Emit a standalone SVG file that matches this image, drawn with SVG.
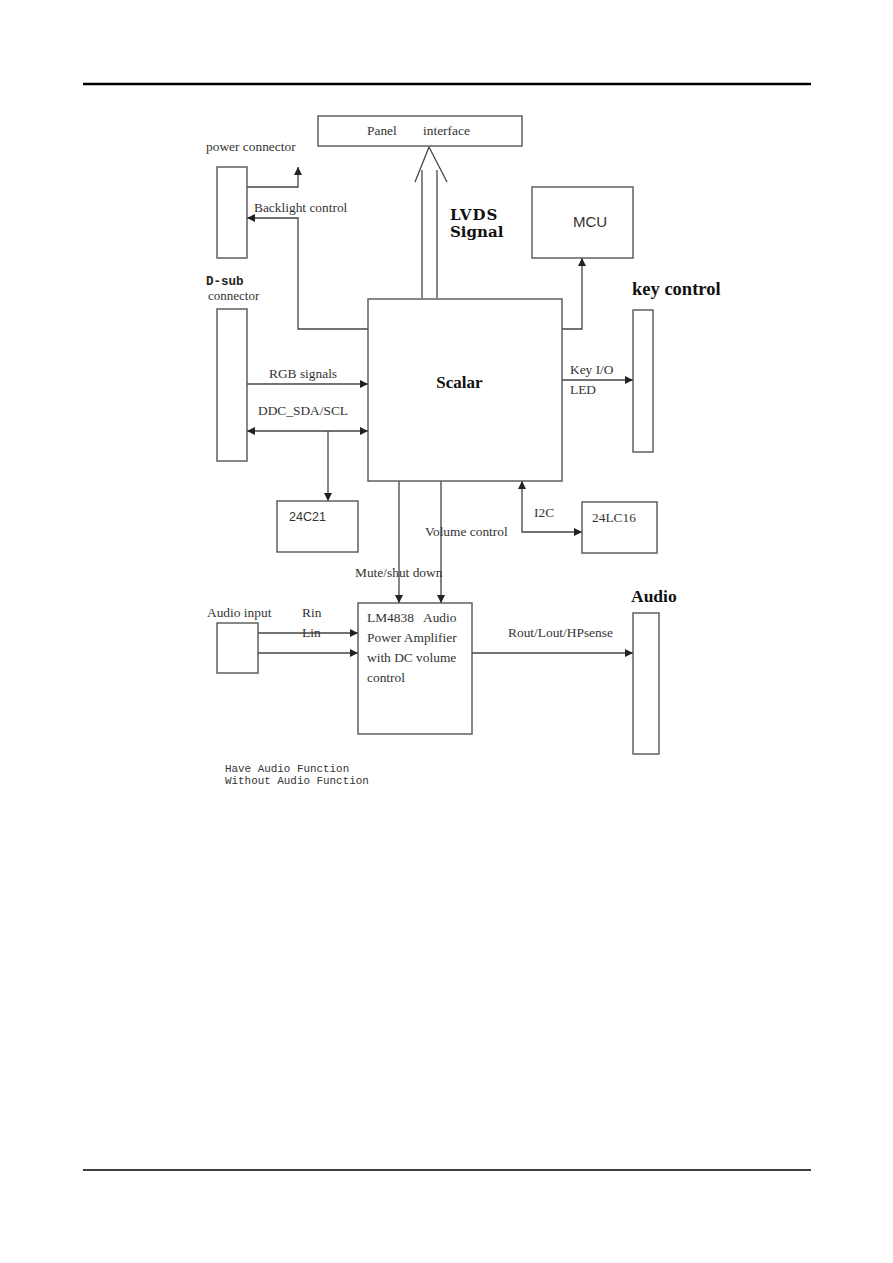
<svg xmlns="http://www.w3.org/2000/svg" width="893" height="1263" viewBox="0 0 893 1263">
<defs>
<marker id="ah" viewBox="0 0 10 10" refX="10" refY="5" markerWidth="9" markerHeight="8" markerUnits="userSpaceOnUse" orient="auto-start-reverse">
<path d="M0,0 L10,5 L0,10 z" fill="#222"/>
</marker>
<style>
.box{fill:#fff;stroke:#555;stroke-width:1.4}
.ln{fill:none;stroke:#444;stroke-width:1.3}
.arr{fill:none;stroke:#444;stroke-width:1.3;marker-end:url(#ah)}
.t{font-family:"Liberation Serif",serif;font-size:13.4px;fill:#333}
.b{font-family:"Liberation Serif",serif;font-weight:bold;font-size:17px;fill:#111}
.m{font-family:"Liberation Mono",monospace;font-size:10.9px;fill:#333}
.s{font-family:"Liberation Sans",sans-serif;font-size:13px;fill:#333}
</style>
</defs>
<rect width="893" height="1263" fill="#fff"/>
<line x1="83" y1="84" x2="811" y2="84" stroke="#000" stroke-width="2.5"/>
<line x1="83" y1="1170" x2="811" y2="1170" stroke="#000" stroke-width="1.3"/>

<g id="connectors">
<line class="ln" x1="422" y1="298" x2="422" y2="170"/>
<line class="ln" x1="437" y1="298" x2="437" y2="170"/>
<polyline class="ln" points="415,182 429,147 447,182"/>
<polyline class="arr" points="247,187 298,187 298,167"/>
<polyline class="arr" points="368,329 298,329 298,218 247,218"/>
<line class="arr" x1="247" y1="384" x2="368" y2="384"/>
<line class="arr" x1="247" y1="431" x2="368" y2="431" style="marker-start:url(#ah)"/>
<line class="arr" x1="328" y1="431" x2="328" y2="501"/>
<polyline class="arr" points="562,329 582,329 582,258"/>
<line class="arr" x1="562" y1="380" x2="633" y2="380"/>
<polyline class="arr" points="522,481 522,532 582,532" style="marker-start:url(#ah)"/>
<line class="arr" x1="399" y1="481" x2="399" y2="603"/>
<line class="arr" x1="441" y1="481" x2="441" y2="603"/>
<line class="arr" x1="258" y1="633" x2="358" y2="633"/>
<line class="arr" x1="258" y1="653" x2="358" y2="653"/>
<line class="arr" x1="472" y1="653" x2="633" y2="653"/>
</g>

<g id="panel">
<rect class="box" x="318" y="116" width="204" height="30"/>
<text class="t" x="367" y="135">Panel</text>
<text class="t" x="423" y="135">interface</text>
</g>
<g id="power">
<rect class="box" x="217" y="167" width="30" height="91"/>
<text class="t" x="206" y="151">power connector</text>
</g>
<g id="dsub">
<rect class="box" x="217" y="309" width="30" height="152"/>
<text class="m" x="206" y="285" style="font-weight:bold;font-size:12.5px;fill:#222">D-sub</text>
<text class="t" x="208" y="300" style="font-size:13px">connector</text>
</g>
<g id="scalar">
<rect class="box" x="368" y="299" width="194" height="182"/>
<text class="b" x="459.5" y="388" text-anchor="middle">Scalar</text>
</g>
<g id="mcu">
<rect class="box" x="532" y="187" width="101" height="71"/>
<text class="s" x="573" y="227" style="font-size:15px">MCU</text>
</g>
<g id="key">
<rect class="box" x="633" y="310" width="20" height="142"/>
<text class="b" x="632" y="295" style="font-size:18.5px">key control</text>
</g>
<g id="c24c21">
<rect class="box" x="277" y="501" width="81" height="51"/>
<text class="s" x="289" y="521" style="font-size:12.5px">24C21</text>
</g>
<g id="c24lc16">
<rect class="box" x="582" y="502" width="75" height="51"/>
<text class="t" x="592" y="522">24LC16</text>
</g>
<g id="amp">
<rect class="box" x="358" y="603" width="114" height="131"/>
<text class="t" x="367" y="622">LM4838</text>
<text class="t" x="423" y="622">Audio</text>
<text class="t" x="367" y="642">Power Amplifier</text>
<text class="t" x="367" y="662">with DC volume</text>
<text class="t" x="367" y="682">control</text>
</g>
<g id="audioin">
<rect class="box" x="217" y="623" width="41" height="50"/>
<text class="t" x="207" y="617">Audio input</text>
</g>
<g id="audio">
<rect class="box" x="633" y="613" width="26" height="141"/>
<text class="b" x="631" y="602" style="font-size:17.5px">Audio</text>
</g>

<g id="labels">
<text x="450" y="220" style="font-family:'DejaVu Serif','Liberation Serif',serif;font-weight:bold;font-size:15px;letter-spacing:1px;fill:#111">LVDS</text>
<text x="450" y="237" style="font-family:'DejaVu Serif','Liberation Serif',serif;font-weight:bold;font-size:15px;fill:#111">Signal</text>
<text class="t" x="254" y="212">Backlight control</text>
<text class="t" x="269" y="378">RGB signals</text>
<text class="t" x="258" y="415">DDC_SDA/SCL</text>
<text class="t" x="570" y="374">Key I/O</text>
<text class="t" x="570" y="394">LED</text>
<text class="t" x="534" y="517">I2C</text>
<text class="t" x="425" y="536">Volume control</text>
<text class="t" x="355" y="577">Mute/shut down</text>
<text class="t" x="302" y="617">Rin</text>
<text class="t" x="302" y="637">Lin</text>
<text class="t" x="508" y="637">Rout/Lout/HPsense</text>
<text class="m" x="225" y="772">Have Audio Function</text>
<text class="m" x="225" y="784">Without Audio Function</text>
</g>
</svg>
